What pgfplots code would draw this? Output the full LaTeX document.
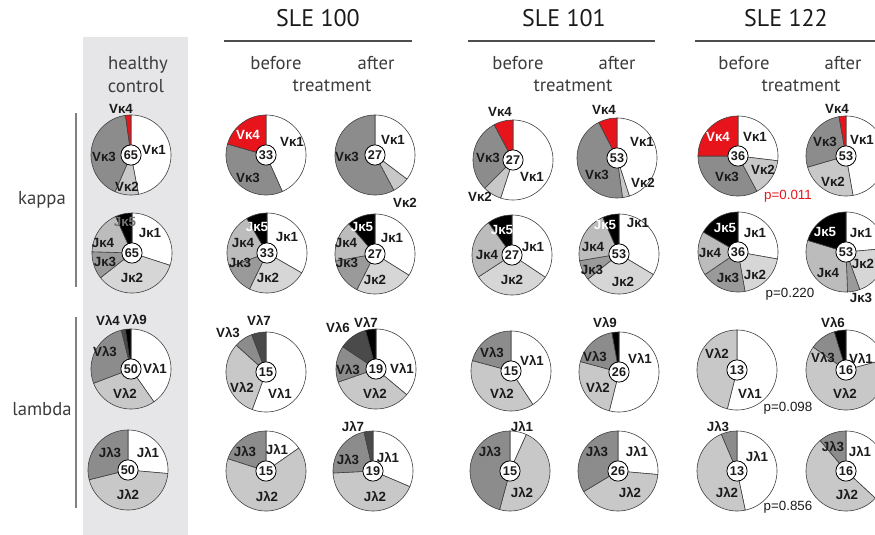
\documentclass[border=0pt]{standalone}
\usepackage{fontspec}
\setmainfont{PT Sans}
\newfontfamily\labfont{Liberation Sans}
\usepackage{pgfplots}
\pgfplotsset{compat=1.18}

\definecolor{bg}{HTML}{E6E6E8}
\definecolor{lg}{HTML}{C8C8C8}
\definecolor{jl}{HTML}{D6D6D6}
\definecolor{jf}{HTML}{BCBCBC}
\definecolor{jt}{HTML}{9A9A9A}
\definecolor{mg}{HTML}{8C8C8C}
\definecolor{dg}{HTML}{4A4A4A}
\definecolor{kred}{HTML}{E8141C}
\definecolor{txt}{HTML}{1A1A1A}
\definecolor{rulec}{HTML}{4D4D4D}

\tikzset{
  slice/.style={draw=black!75, line width=0.45pt, line join=round},
  lab/.style={font=\labfont\bfseries\fontsize{10}{11}\selectfont, text=txt, inner sep=0pt},
  num/.style={font=\labfont\bfseries\fontsize{9.5}{10}\selectfont, text=txt, inner sep=0pt},
  pval/.style={font=\labfont\fontsize{10}{11}\selectfont, text=txt, inner sep=0pt, anchor=base},
  head/.style={font=\fontsize{18}{20}\selectfont, text=txt, inner sep=0pt, anchor=base},
  sub/.style={font=\fontsize{14}{16}\selectfont, text=txt!85, inner sep=0pt, anchor=base},
}

\def\R{40}

% pie: centre x, centre y, clone count, list of percent/colour (clockwise from 12 o'clock)
\newcommand{\pie}[4]{%
  \gdef\acc{0}%
  \foreach \p/\col in {#4}{%
    \pgfmathsetmacro\sa{\acc*3.6}%
    \pgfmathsetmacro\sb{(\acc+\p)*3.6}%
    \pgfmathtruncatemacro\ns{max(4,\p)}%
    \edef\doslice{\noexpand\addplot[slice,fill=\col,domain=\sa:\sb,samples=\ns]
      ({#1+\R*sin(x)},{#2-\R*cos(x)}) -- (axis cs:#1,#2) -- cycle;}%
    \doslice
    \pgfmathsetmacro\tmpacc{\acc+\p}\xdef\acc{\tmpacc}%
  }%
  % white hub with the number of clones
  \addplot[only marks, mark=*, mark size=7.6pt,
    mark options={fill=white, draw=black, line width=0.6pt},
    nodes near coords={#3}, nodes near coords align={center},
    every node near coord/.style={num}] coordinates {(#1,#2)};
}
\newcommand{\lb}[3]{\node[lab] at (axis cs:#1,#2) {#3};}
\newcommand{\lbw}[3]{\node[lab, text=white] at (axis cs:#1,#2) {#3};}

\begin{document}
\begin{tikzpicture}
\begin{axis}[
  scale only axis, width=656.25pt, height=401.25pt,
  xmin=0, xmax=875, ymin=0, ymax=535, y dir=reverse,
  hide axis,
]
\coordinate (BL) at (axis cs:0,535);
\coordinate (TR) at (axis cs:875,0);

% healthy control panel
\addplot[fill=bg, draw=none] coordinates {(83,37) (188,37) (188,535) (83,535)} -- cycle;

% group rules
\addplot[rulec, line width=1.3pt] coordinates {(224,41) (412,41)};
\addplot[rulec, line width=1.3pt] coordinates {(468,41) (655,41)};
\addplot[rulec, line width=1.3pt] coordinates {(695,41) (875,41)};
\addplot[black!50, line width=1.1pt] coordinates {(76,113) (76,287)};
\addplot[black!50, line width=1.1pt] coordinates {(76,317) (76,508)};

% headings
\node[head] at (axis cs:318,27) {SLE 100};
\node[head] at (axis cs:564,27) {SLE 101};
\node[head] at (axis cs:786,27) {SLE 122};
\node[sub] at (axis cs:138,70) {healthy};
\node[sub] at (axis cs:136,93) {control};
\node[sub] at (axis cs:276,70) {before};
\node[sub] at (axis cs:376,70) {after};
\node[sub] at (axis cs:332,92) {treatment};
\node[sub] at (axis cs:518,70) {before};
\node[sub] at (axis cs:617,70) {after};
\node[sub] at (axis cs:573,92) {treatment};
\node[sub] at (axis cs:744,70) {before};
\node[sub] at (axis cs:843,70) {after};
\node[sub] at (axis cs:801,92) {treatment};
\node[sub] at (axis cs:42,204) {kappa};
\node[sub] at (axis cs:42,415) {lambda};

% ---- kappa V genes ----
\pie{131}{155}{65}{47/white, 9.5/lg, 41.3/mg, 2.2/kred}
\pie{266}{155}{33}{43.3/white, 36.1/mg, 20.6/kred}
\pie{375}{155}{27}{35.3/white, 6.9/lg, 57.8/mg}
\pie{513}{160}{27}{55/white, 7.5/lg, 29.7/mg, 7.8/kred}
\pie{617}{158}{53}{45/white, 2.8/lg, 44.7/mg, 7.5/kred}
\pie{738}{156}{36}{26.9/white, 15.3/lg, 32.8/mg, 25/kred}
\pie{846}{156}{53}{47.2/white, 23.3/lg, 26.7/mg, 2.8/kred}

% ---- kappa J genes ----
\pie{132}{253}{65}{30/white, 34.4/jl, 11.1/jt, 17.8/jf, 6.7/black}
\pie{267}{253}{33}{33.3/white, 23.9/jl, 12.2/jt, 22.2/jf, 8.4/black}
\pie{375}{254}{27}{33.9/white, 23.6/jl, 14.7/jt, 16.4/jf, 11.4/black}
\pie{512}{255}{27}{34.4/white, 31.4/jl, 24.2/jf, 10/black}
\pie{619}{254}{53}{33.6/white, 30.6/jl, 8.1/jt, 21.1/jf, 6.6/black}
\pie{738}{252}{36}{27.8/white, 19.4/jl, 18.3/jt, 17.8/jf, 16.7/black}
\pie{846}{252}{53}{23.6/white, 20.8/jl, 5/jt, 30.3/jf, 20.3/black}

% ---- lambda V genes ----
\pie{131}{369}{50}{40.3/white, 28.9/lg, 26.9/mg, 1.7/dg, 2.2/black}
\pie{266}{372}{15}{55.6/white, 31.1/lg, 7.5/mg, 5.8/dg}
\pie{376}{369}{19}{36.1/white, 33.6/lg, 14.7/mg, 11.4/dg, 4.2/black}
\pie{511}{371}{15}{40.8/white, 38.4/lg, 20.8/mg}
\pie{619}{372}{26}{53.9/white, 25.3/lg, 18/mg, 2.8/black}
\pie{737}{370}{13}{53.9/white, 46.1/lg}
\pie{846}{370}{16}{20.8/white, 63.9/lg, 10.6/mg, 4.7/black}

% ---- lambda J genes ----
\pie{128}{470}{50}{26.4/white, 44.7/lg, 28.9/mg}
\pie{266}{471}{15}{15.3/white, 64.7/lg, 20/mg}
\pie{373}{471}{19}{31.4/white, 42.8/lg, 22.2/mg, 3.6/dg}
\pie{510}{471}{15}{6.7/white, 47.5/lg, 45.8/mg}
\pie{618}{471}{26}{26.4/white, 40/lg, 33.6/mg}
\pie{737}{471}{13}{46.7/white, 46.9/lg, 6.4/mg}
\pie{846}{471}{16}{36.9/white, 51.9/lg, 11.2/mg}

% ---- slice labels, kappa V ----
\lb{121}{109}{Vκ4} \lb{154}{150}{Vκ1} \lb{104}{157}{Vκ3} \lb{127}{187}{Vκ2}
\lbw{248}{135}{Vκ4} \lb{292}{142}{Vκ1} \lb{248}{178}{Vκ3}
\lb{393}{140}{Vκ1} \lb{347}{157}{Vκ3} \lb{405}{203}{Vκ2}
\lb{500}{112}{Vκ4} \lb{488}{158}{Vκ3} \lb{532}{177}{Vκ1} \lb{480}{197}{Vκ2}
\lb{604}{110}{Vκ4} \lb{642}{142}{Vκ1} \lb{597}{175}{Vκ3} \lb{643}{183}{Vκ2}
\lbw{718}{137}{Vκ4} \lb{755}{137}{Vκ1} \lb{763}{170}{Vκ2} \lb{727}{177}{Vκ3}
\lb{837}{109}{Vκ4} \lb{825}{142}{Vκ3} \lb{862}{140}{Vκ1} \lb{833}{182}{Vκ2}
\node[pval, text=kred] at (axis cs:788,199) {p=0.011};

% ---- slice labels, kappa J ----
\node[lab, text=black!55] at (axis cs:125,222) {Jκ5}; \lb{150}{233}{Jκ1} \lb{103}{243}{Jκ4} \lb{105}{262}{Jκ3} \lb{132}{278}{Jκ2}
\lbw{257}{227}{Jκ5} \lb{287}{237}{Jκ1} \lb{243}{243}{Jκ4} \lb{240}{263}{Jκ3} \lb{268}{278}{Jκ2}
\lbw{362}{227}{Jκ5} \lb{392}{238}{Jκ1} \lb{346}{243}{Jκ4} \lb{347}{263}{Jκ3} \lb{375}{280}{Jκ2}
\lbw{502}{230}{Jκ5} \lb{533}{247}{Jκ1} \lb{487}{255}{Jκ4} \lb{512}{280}{Jκ2}
\lbw{605}{225}{Jκ5} \lb{638}{223}{Jκ1} \lb{593}{247}{Jκ4} \lb{592}{270}{Jκ3} \lb{623}{282}{Jκ2}
\lbw{725}{228}{Jκ5} \lb{755}{233}{Jκ1} \lb{710}{253}{Jκ4} \lb{728}{278}{Jκ3} \lb{755}{275}{Jκ2}
\lbw{825}{232}{Jκ5} \lb{861}{233}{Jκ1} \lb{863}{264}{Jκ2} \lb{828}{273}{Jκ4} \lb{861}{298}{Jκ3}
\node[pval] at (axis cs:790,297) {p=0.220};

% ---- slice labels, lambda V ----
\lb{108}{320}{Vλ4} \lb{135}{320}{Vλ9} \lb{105}{352}{Vλ3} \lb{155}{368}{Vλ1} \lb{125}{393}{Vλ2}
\lb{259}{320}{Vλ7} \lb{228}{333}{Vλ3} \lb{242}{387}{Vλ2} \lb{280}{393}{Vλ1}
\lb{338}{328}{Vλ6} \lb{366}{322}{Vλ7} \lb{348}{370}{Vλ3} \lb{402}{368}{Vλ1} \lb{375}{393}{Vλ2}
\lb{492}{353}{Vλ3} \lb{532}{360}{Vλ1} \lb{502}{393}{Vλ2}
\lb{605}{323}{Vλ9} \lb{595}{357}{Vλ3} \lb{640}{358}{Vλ1} \lb{598}{387}{Vλ2}
\lb{717}{353}{Vλ2} \lb{750}{393}{Vλ1}
\lb{833}{323}{Vλ6} \lb{823}{358}{Vλ3} \lb{861}{358}{Vλ1} \lb{845}{393}{Vλ2}
\node[pval] at (axis cs:788,411) {p=0.098};

% ---- slice labels, lambda J ----
\lb{110}{453}{Jλ3} \lb{148}{453}{Jλ1} \lb{128}{495}{Jλ2}
\lb{245}{452}{Jλ3} \lb{277}{450}{Jλ1} \lb{267}{497}{Jλ2}
\lb{353}{427}{Jλ7} \lb{348}{460}{Jλ3} \lb{388}{458}{Jλ1} \lb{375}{497}{Jλ2}
\lb{522}{427}{Jλ1} \lb{490}{452}{Jλ3} \lb{522}{493}{Jλ2}
\lb{597}{452}{Jλ3} \lb{637}{452}{Jλ1} \lb{630}{493}{Jλ2}
\lb{718}{427}{Jλ3} \lb{757}{457}{Jλ1} \lb{727}{493}{Jλ2}
\lb{833}{447}{Jλ3} \lb{860}{452}{Jλ1} \lb{847}{495}{Jλ2}
\node[pval] at (axis cs:788,510) {p=0.856};
\end{axis}
\pgfresetboundingbox
\path (BL) rectangle (TR);
\end{tikzpicture}
\end{document}
